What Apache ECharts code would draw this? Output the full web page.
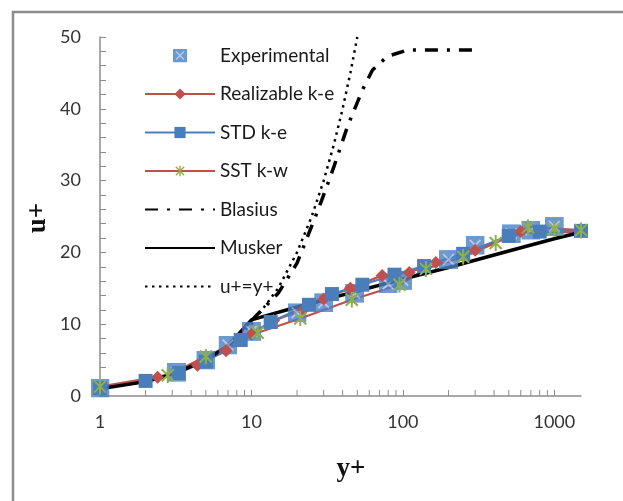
<!DOCTYPE html>
<html>
<head>
<meta charset="utf-8">
<title>u+ vs y+</title>
<script src="https://cdn.jsdelivr.net/npm/echarts@6.0.0/dist/echarts.min.js"></script>
<style>
    html, body { margin: 0; padding: 0; background: #fff; }
    #chart { width: 623px; height: 501px; }
</style>
</head>
<body>
<div id="chart"></div>
<script>
    // data (x = y+, y = u+)
    var expX = [1, 3.2, 5, 7, 10, 20, 30, 48, 80, 100, 200, 300, 520, 700, 1000];
    var expU = [1.1, 3.3, 5.0, 7.1, 9.0, 11.6, 13.0, 14.3, 15.6, 16.1, 19.0, 21.0, 22.6, 23.1, 23.6];

    var realX = [1, 2.4, 4.4, 6.8, 10, 14, 22, 30, 45, 73, 110, 165, 300, 600, 1500];
    var realU = [1.0, 2.6, 4.3, 6.3, 8.6, 10.5, 12.0, 13.5, 15.0, 16.8, 17.2, 18.6, 20.3, 22.9, 22.8];

    var stdX = [1, 2, 3.3, 5, 8.5, 13.4, 24, 34, 54, 88, 138, 250, 500, 800, 1500];
    var stdU = [1.1, 2.1, 3.2, 4.8, 7.8, 10.3, 12.7, 14.2, 15.5, 16.9, 18.1, 19.8, 22.3, 22.9, 23.0];

    var sstX = [1, 2.8, 5, 11, 21, 46, 95, 142, 250, 410, 670, 1000, 1500];
    var sstU = [1.3, 2.9, 5.5, 8.8, 10.8, 13.4, 15.5, 17.7, 19.4, 21.3, 23.5, 23.3, 23.1];

    var blasX = [10, 15, 20, 28, 35, 43, 54, 63, 79, 108, 200, 310];
    var blasU = [10.5, 14.3, 18.5, 26.3, 31.9, 37.5, 42.6, 45.4, 47.3, 48.2, 48.2, 48.2];

    var muskX = [1, 2, 3, 5, 7, 10, 20, 50, 100, 200, 500, 1000, 1500];
    var muskU = [1, 2, 3, 5, 7, 10.6, 12.4, 14.6, 16.3, 17.9, 20.2, 21.9, 22.8];

    var uyX = [1, 2, 3, 5, 7, 10, 15, 20, 25, 30, 35, 40, 45, 50];
    var uyU = [1, 2, 3, 5, 7, 10, 15, 20, 25, 30, 35, 40, 45, 50];

    // minor ticks of the log axis
    var minorTicks = [2, 3, 4, 5, 6, 7, 8, 9, 20, 30, 40, 50, 60, 70, 80, 90, 200, 300, 400, 500, 600, 700, 800, 900];

    function pairs(xs, ys) {
        var out = [];
        for (var i = 0; i < xs.length; i++) out.push([xs[i], ys[i]]);
        return out;
    }

    function svgSymbol(svg) {
        return 'image://data:image/svg+xml;utf8,' + encodeURIComponent(svg);
    }

    var expSymbol = svgSymbol("<svg xmlns='http://www.w3.org/2000/svg' width='32' height='32'>" +
        "<rect width='32' height='32' fill='#4a80c4'/>" +
        "<path d='M7 7L25 25M25 7L7 25' stroke='#a4c0e6' stroke-width='3'/></svg>");
    var starSymbol = svgSymbol("<svg xmlns='http://www.w3.org/2000/svg' width='32' height='32'>" +
        "<path d='M4 4L28 28M28 4L4 28M16 0L16 32' stroke='#8db04a' stroke-width='4'/></svg>");

    var gray = '#8c8c8c';
    var chart = echarts.init(document.getElementById('chart'));
    var option = {
        animation: false,
        backgroundColor: '#fff',
        grid: { left: 100, right: 42, top: 37, bottom: 105 },
        legend: {
            orient: 'vertical',
            left: 139,
            top: 41,
            itemWidth: 70,
            itemHeight: 14,
            itemGap: 19.5,
            textStyle: { fontFamily: 'Lato', fontSize: 19, lineHeight: 19, color: '#1a1a1a' },
            data: [
                'Experimental', 'Realizable k-e', 'STD k-e', 'SST k-w',
                { name: 'Blasius', itemStyle: { opacity: 0 } },
                { name: 'Musker', itemStyle: { opacity: 0 } },
                { name: 'u+=y+', itemStyle: { opacity: 0 } }
            ]
        },
        xAxis: {
            type: 'log',
            logBase: 10,
            min: 1,
            max: 1500,
            interval: 1,
            axisLine: { lineStyle: { color: gray, width: 1.5 } },
            axisTick: { inside: true, length: 6, lineStyle: { color: gray } },
            axisLabel: {
                showMaxLabel: false, margin: 17, fontFamily: 'Lato', fontSize: 18, color: '#333',
                formatter: function (v) { return String(v); }
            },
            splitLine: { show: false }
        },
        yAxis: {
            type: 'value',
            min: 0,
            max: 50,
            interval: 10,
            axisLine: { show: true, lineStyle: { color: gray, width: 1.5 } },
            axisTick: { show: true, inside: true, length: 6, lineStyle: { color: gray } },
            minorTick: { show: true, splitNumber: 5, length: 6, lineStyle: { color: gray } },
            axisLabel: { margin: 19, fontFamily: 'Lato', fontSize: 18, color: '#333' },
            splitLine: { show: false }
        },
        graphic: [
            { type: 'polyline', silent: true, shape: { points: [[13, 520], [13, 12], [640, 12]] },
              style: { stroke: gray, lineWidth: 2.5, fill: null } },
            { type: 'text', x: 351, y: 469,
              style: { text: 'y+', font: 'bold 27px "Liberation Serif"', fill: '#111', align: 'center', verticalAlign: 'middle' } },
            { type: 'text', x: 38, y: 218, rotation: Math.PI / 2,
              style: { text: 'u+', font: 'bold 27px "Liberation Serif"', fill: '#111', align: 'center', verticalAlign: 'middle' } }
        ],
        series: [
            {
                name: 'minorTicks',
                type: 'custom',
                silent: true,
                data: minorTicks,
                encode: { x: 0 },
                renderItem: function (params, api) {
                    var p = api.coord([api.value(0), 0]);
                    return {
                        type: 'line',
                        shape: { x1: p[0], y1: p[1], x2: p[0], y2: p[1] - 6 },
                        style: { stroke: gray, lineWidth: 1 }
                    };
                }
            },
            {
                name: 'Experimental',
                type: 'scatter',
                symbol: expSymbol,
                symbolSize: 19,
                data: pairs(expX, expU),
                z: 3
            },
            {
                name: 'Realizable k-e',
                type: 'line',
                color: '#c0504d',
                symbol: 'diamond',
                symbolSize: 13,
                lineStyle: { width: 2.2, color: '#c0504d' },
                itemStyle: { color: '#c0504d' },
                data: pairs(realX, realU)
            },
            {
                name: 'STD k-e',
                type: 'line',
                color: '#4a7ebb',
                symbol: 'rect',
                symbolSize: 14,
                lineStyle: { width: 2.2, color: '#4a7ebb' },
                itemStyle: { color: '#4a7ebb' },
                data: pairs(stdX, stdU)
            },
            {
                name: 'SST k-w',
                type: 'line',
                color: '#c0504d',
                symbol: starSymbol,
                symbolSize: 16,
                lineStyle: { width: 2.2, color: '#c0504d' },
                data: pairs(sstX, sstU)
            },
            {
                name: 'Blasius',
                type: 'line',
                color: '#000',
                symbol: 'none',
                lineStyle: { width: 3.5, color: '#000', type: [13, 9, 3, 9] },
                data: pairs(blasX, blasU)
            },
            {
                name: 'Musker',
                type: 'line',
                color: '#000',
                symbol: 'none',
                lineStyle: { width: 3.5, color: '#000' },
                data: pairs(muskX, muskU)
            },
            {
                name: 'u+=y+',
                type: 'line',
                color: '#000',
                symbol: 'none',
                lineStyle: { width: 2.5, color: '#000', type: [2.5, 4.5] },
                data: pairs(uyX, uyU)
            }
        ]
    };
    chart.setOption(option);
</script>
</body>
</html>
